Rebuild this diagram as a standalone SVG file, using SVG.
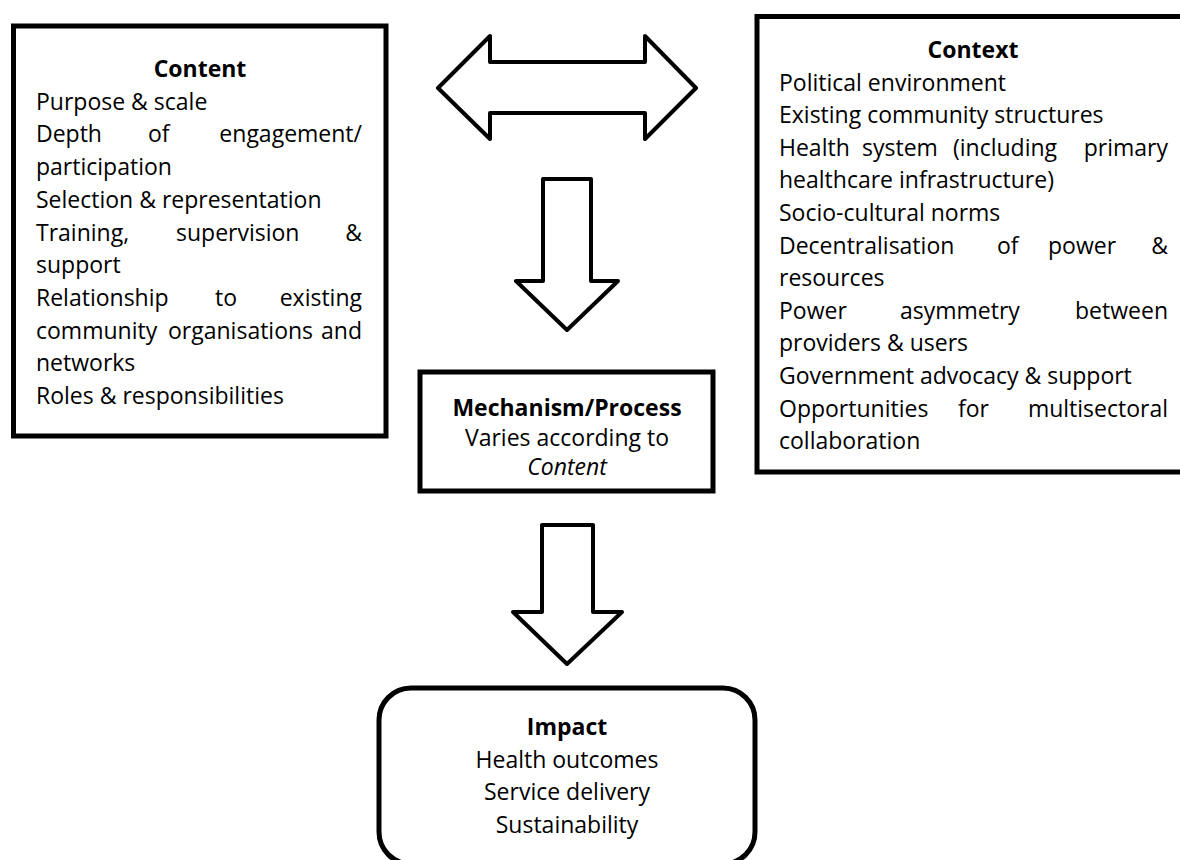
<svg xmlns="http://www.w3.org/2000/svg" width="1180" height="860" viewBox="0 0 1180 860">
<style>
.box{fill:#fff;stroke:#000;stroke-width:5}
.arr{fill:#fff;stroke:#000;stroke-width:4;stroke-linejoin:round}
text{font-family:"Open Sans","Noto Sans",sans-serif;font-size:23px;fill:#000}
.b{font-weight:bold}
.c{text-anchor:middle}
.e{text-anchor:end}
.i{font-style:italic}
</style>
<rect width="1180" height="860" fill="#fff"/>
<g id="connectors">
<polygon class="arr" points="438,88 490,36 490,62 645,62 645,36 696,88 645,139 645,113 490,113 490,139"/>
<polygon class="arr" points="543,179 591,179 591,281 618,281 567,330 516,281 543,281"/>
<polygon class="arr" points="542,525 593,525 593,612 622,612 567,664 513,612 542,612"/>
</g>
<g id="content">
<rect class="box" x="13.5" y="26" width="372.5" height="410"/>
<text class="b c" x="200" y="77">Content</text>
<text x="36" y="109.7">Purpose &amp; scale</text>
<text x="36" y="142.4">Depth</text><text x="148" y="142.4">of</text><text class="e" x="362" y="142.4">engagement/</text>
<text x="36" y="175.1">participation</text>
<text x="36" y="207.8">Selection &amp; representation</text>
<text x="36" y="240.5">Training,</text><text x="176" y="240.5">supervision</text><text class="e" x="362" y="240.5">&amp;</text>
<text x="36" y="273.2">support</text>
<text x="36" y="305.9">Relationship</text><text x="215" y="305.9">to</text><text class="e" x="362" y="305.9">existing</text>
<text x="36" y="338.6">community</text><text x="168" y="338.6">organisations</text><text class="e" x="362" y="338.6">and</text>
<text x="36" y="371.3">networks</text>
<text x="36" y="404">Roles &amp; responsibilities</text>
</g>
<g id="context">
<rect class="box" x="757" y="16.5" width="430" height="455.5"/>
<text class="b c" x="973" y="58">Context</text>
<text x="779" y="90.6">Political environment</text>
<text x="779" y="123.2">Existing community structures</text>
<text x="779" y="155.8">Health</text><text x="862" y="155.8">system</text><text x="953" y="155.8">(including</text><text class="e" x="1168" y="155.8">primary</text>
<text x="779" y="188.4">healthcare infrastructure)</text>
<text x="779" y="221">Socio-cultural norms</text>
<text x="779" y="253.6">Decentralisation</text><text x="997" y="253.6">of</text><text x="1048" y="253.6">power</text><text class="e" x="1168" y="253.6">&amp;</text>
<text x="779" y="286.2">resources</text>
<text x="779" y="318.8">Power</text><text x="900" y="318.8">asymmetry</text><text class="e" x="1168" y="318.8">between</text>
<text x="779" y="351.4">providers &amp; users</text>
<text x="779" y="384">Government advocacy &amp; support</text>
<text x="779" y="416.6">Opportunities</text><text x="958" y="416.6">for</text><text class="e" x="1168" y="416.6">multisectoral</text>
<text x="779" y="449.2">collaboration</text>
</g>
<g id="mechanism">
<rect class="box" x="420" y="372" width="293" height="119"/>
<text class="b c" x="567" y="416">Mechanism/Process</text>
<text class="c" x="567" y="445.5">Varies according to</text>
<text class="i c" x="567" y="475">Content</text>
</g>
<g id="impact">
<rect class="box" x="379" y="688" width="376" height="176" rx="32" ry="32"/>
<text class="b c" x="567" y="735">Impact</text>
<text class="c" x="567" y="767.5">Health outcomes</text>
<text class="c" x="567" y="800">Service delivery</text>
<text class="c" x="567" y="832.5">Sustainability</text>
</g>
</svg>
